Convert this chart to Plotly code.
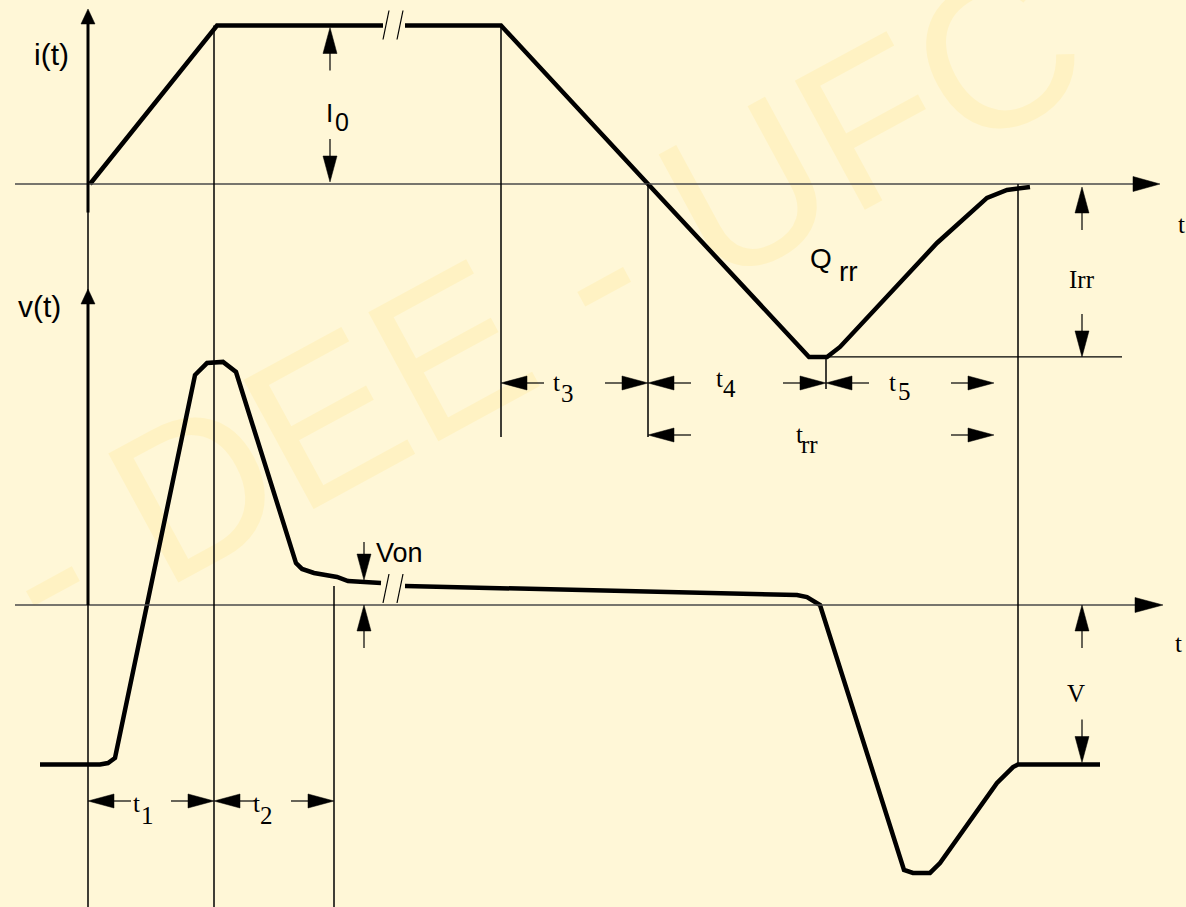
import plotly.graph_objects as go

W, H = 1186, 907
BG = "#FFF7D7"
WATERMARK_COLOR = "#FFF2C3"
INK = "#000000"
AXIS_GREY = "#4a4a4a"
SANS = "Liberation Sans, Arial, sans-serif"
SERIF = "Liberation Serif, Times New Roman, serif"

# ---------------- data ----------------
# diode current during turn-on / turn-off, in units of I0
T_CURRENT = [0.02, 1.29, 2.95, None, 3.17, 4.13, 5.60, 7.16, 7.21, 7.39, 7.52, 8.49, 8.99, 9.19, 9.42]
I_CURRENT = [0.0, 1.0, 1.0, None, 1.0, 1.0, 0.0, -1.066, -1.091, -1.091, -1.028, -0.372, -0.088, -0.038, -0.019]

# diode voltage, in units of the reverse voltage V
T_VOLTAGE = [-0.48, 0.12, 0.20, 0.27, 1.07, 1.19, 1.35, 1.48, 2.08, 2.14, 2.26, 2.41, 2.49, 2.60, 2.93, None,
             3.17, 6.92, 7.09, 7.19, 7.32, 8.16, 8.25, 8.42, 8.52, 9.09, 9.25, 9.30, 10.12]
V_VOLTAGE = [-1.0, -1.0, -0.991, -0.959, 1.442, 1.517, 1.524, 1.461, 0.263, 0.226, 0.201, 0.188, 0.176, 0.150, 0.138, None,
             0.119, 0.069, 0.063, 0.050, 0.0, -1.661, -1.680, -1.680, -1.618, -1.116, -1.016, -1.0, -1.0]

# interval boundaries: t1 | t2 | ... | t3 | t4 | t5
T_MARKS = [0.0, 1.26, 2.46, 4.13, 5.60, 7.38, 9.30]
T_RR_ARROW_END = 9.06
T_BREAK = 3.05
INTERVAL_NAMES = ["1", "2", "3", "4", "5", "rr"]

# levels
I_0 = 1.0
I_RR = -1.091
V_ON = 0.15
V_R = -1.0

# ---------------- geometry ----------------
T_MIN, T_MAX = -0.88, 10.98
I_ZERO_PX, I_UNIT_PX = 184.0, 158.5
V_ZERO_PX, V_UNIT_PX = 605.0, 159.5
I_RANGE = [(I_ZERO_PX - H) / I_UNIT_PX, I_ZERO_PX / I_UNIT_PX]
V_RANGE = [(V_ZERO_PX - H) / V_UNIT_PX, V_ZERO_PX / V_UNIT_PX]


def xpx(t):
    return (t - T_MIN) / (T_MAX - T_MIN) * W


def ipx(i):
    return I_ZERO_PX - i * I_UNIT_PX


def vpx(v):
    return V_ZERO_PX - v * V_UNIT_PX


shapes = []
annotations = []


def P(px, py):
    return px / W, 1 - py / H


def seg(x0, y0, x1, y1, width=1.3, color=INK):
    a, b = P(x0, y0)
    c, d = P(x1, y1)
    shapes.append(dict(type="line", xref="paper", yref="paper", x0=a, y0=b, x1=c, y1=d,
                       line=dict(color=color, width=width)))


def head(tx, ty, dx, dy, length=26, half=7, color=INK):
    bx, by = tx - dx * length, ty - dy * length
    pts = [(tx, ty), (bx - dy * half, by + dx * half), (bx + dy * half, by - dx * half)]
    path = "M " + " L ".join("%.5f,%.5f" % P(x, y) for x, y in pts) + " Z"
    shapes.append(dict(type="path", xref="paper", yref="paper", path=path,
                       fillcolor=color, line=dict(color=color, width=0.5)))


def arrow(tx, ty, dx, dy, total=43):
    head(tx, ty, dx, dy)
    seg(tx - dx * 20, ty - dy * 20, tx - dx * total, ty - dy * total, width=1.2)


def hdim(t0, t1, ypix):
    arrow(xpx(t0), ypix, -1, 0)
    arrow(xpx(t1), ypix, 1, 0)


def text(px, py, s, size, family, color=INK):
    a, b = P(px, py)
    annotations.append(dict(x=a, y=b, xref="paper", yref="paper", text=s, showarrow=False,
                            xanchor="center", yanchor="middle",
                            font=dict(family=family, size=size, color=color)))


# watermark, drawn underneath everything
cx, cy = P(529, 285)
shapes.append(dict(type="rect", xref="paper", yref="paper", x0=cx - 0.01, x1=cx + 0.01,
                   y0=cy - 0.01, y1=cy + 0.01, layer="below", line=dict(width=0),
                   fillcolor="rgba(0,0,0,0)",
                   label=dict(text="- DEE - UFC", textangle=-28.5, textposition="middle center",
                              font=dict(family=SANS, size=213, color=WATERMARK_COLOR))))

# zero lines with arrowheads
seg(15, ipx(0), 1140, ipx(0), width=1.3, color=AXIS_GREY)
head(1160, ipx(0), 1, 0, length=27, half=7.5)
seg(15, vpx(0), 1142, vpx(0), width=1.3, color=AXIS_GREY)
head(1163, vpx(0), 1, 0, length=28, half=7.5)

# vertical reference lines at the interval boundaries
x0 = xpx(T_MARKS[0])
seg(x0, ipx(0), x0, H, width=1.5)
seg(xpx(T_MARKS[1]), ipx(I_0), xpx(T_MARKS[1]), H, width=1.5)
seg(xpx(T_MARKS[2]), vpx(V_ON) + 5, xpx(T_MARKS[2]), H, width=1.5)
seg(xpx(T_MARKS[3]), ipx(I_0), xpx(T_MARKS[3]), 437, width=1.5)
seg(xpx(T_MARKS[4]), ipx(0), xpx(T_MARKS[4]), 437, width=1.5)
seg(xpx(T_MARKS[5]), ipx(I_RR), xpx(T_MARKS[5]), 389, width=1.5)
seg(xpx(T_MARKS[6]), ipx(0), xpx(T_MARKS[6]), vpx(V_R), width=1.5)
# reverse-recovery peak level
seg(xpx(T_MARKS[5]), ipx(I_RR), 1122, ipx(I_RR), width=1.4)

# vertical axes
seg(x0, ipx(-0.18), x0, 22, width=3)
head(x0, 9, 0, -1, length=15, half=7)
seg(x0, vpx(0), x0, 302, width=3)
head(x0, 289, 0, -1, length=15, half=7)

# break marks on the long conduction interval
xb = xpx(T_BREAK)
for off in (-7, 7):
    seg(xb + off - 3, ipx(I_0) + 14, xb + off + 3, ipx(I_0) - 15, width=1.2)
    seg(xb + off - 3, vpx(0) - 2, xb + off + 3, vpx(0) - 31, width=1.2)

# time intervals
ROW_T12, ROW_T345, ROW_TRR = 801, 383, 435
hdim(T_MARKS[0], T_MARKS[1], ROW_T12)
hdim(T_MARKS[1], T_MARKS[2], ROW_T12)
hdim(T_MARKS[3], T_MARKS[4], ROW_T345)
hdim(T_MARKS[4], T_MARKS[5], ROW_T345)
hdim(T_MARKS[5], T_RR_ARROW_END, ROW_T345)
hdim(T_MARKS[4], T_RR_ARROW_END, ROW_TRR)

# amplitude markers
xi0 = xpx(2.42)
arrow(xi0, ipx(I_0) + 2, 0, -1)
arrow(xi0, ipx(0) - 2, 0, 1)
xr = xpx(9.94)
arrow(xr, ipx(0) + 3, 0, -1)
arrow(xr, ipx(I_RR), 0, 1)
arrow(xr, vpx(0), 0, -1)
arrow(xr, vpx(V_R) - 2, 0, 1)
xon = xpx(2.76)
arrow(xon, vpx(V_ON) - 1, 0, 1, total=38)
arrow(xon, vpx(0), 0, -1)

# labels
text(51, 54, "i(t)", 30, SANS)
text(39, 306, "v(t)", 30, SANS)
text(329, 113, "I", 26, SANS)
text(342, 122, "0", 25, SANS)
text(821, 258, "Q", 28, SANS)
text(848, 271, "rr", 28, SANS)
text(399, 553, "Von", 27, SANS)
text(1082, 279, "Irr", 25, SERIF)
text(1181, 224, "t", 25, SERIF)
text(1178, 643, "t", 25, SERIF)
text(1076, 693, "V", 25, SERIF)

sub_pos = [((136.5, 803), (147.5, 815)), ((256, 803), (266, 815)),
           ((556.5, 382), (567.5, 393.5)), ((719.5, 379), (729.5, 388.5)),
           ((892.5, 382), (904, 391.5)), ((799.5, 435), (809, 445))]
for name, (tp, sp) in zip(INTERVAL_NAMES, sub_pos):
    text(tp[0], tp[1], "t", 25, SERIF)
    text(sp[0], sp[1], name, 25, SERIF)

fig = go.Figure()
fig.add_trace(go.Scatter(x=T_CURRENT, y=I_CURRENT, mode="lines", yaxis="y",
                         line=dict(color=INK, width=4.5), hoverinfo="skip"))
fig.add_trace(go.Scatter(x=T_VOLTAGE, y=V_VOLTAGE, mode="lines", yaxis="y2",
                         line=dict(color=INK, width=4.5), hoverinfo="skip"))

fig.update_layout(
    width=W, height=H, autosize=False,
    margin=dict(l=0, r=0, t=0, b=0, pad=0),
    paper_bgcolor=BG, plot_bgcolor=BG,
    showlegend=False, hovermode=False,
    xaxis=dict(range=[T_MIN, T_MAX], visible=False, fixedrange=True),
    yaxis=dict(range=I_RANGE, visible=False, fixedrange=True),
    yaxis2=dict(range=V_RANGE, visible=False, overlaying="y", fixedrange=True),
    shapes=shapes, annotations=annotations,
)

fig.write_html("out.html")
